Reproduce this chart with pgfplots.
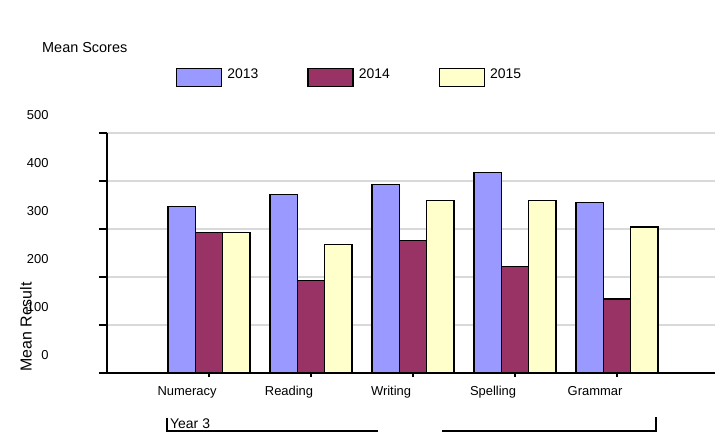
\documentclass[border=0pt]{standalone}
\usepackage{fontspec}
\setmainfont{Liberation Sans}
\usepackage{pgfplots}
\pgfplotsset{compat=1.18}
\definecolor{c13}{HTML}{9999FF}
\definecolor{c14}{HTML}{993366}
\definecolor{c15}{HTML}{FFFFCC}
\definecolor{gridc}{HTML}{D9D9D9}
\begin{document}
\begin{tikzpicture}
\useasboundingbox (0,0) rectangle (715bp,437bp);
\begin{axis}[
  at={(107bp,64bp)}, anchor=south west,
  scale only axis, width=608bp, height=240bp,
  xmin=0, xmax=5.96, ymin=0, ymax=500,
  clip=false,
  axis x line=bottom, axis y line=left,
  axis line style={-, black, line width=1.3bp},
  ybar=0pt, bar width=27.3bp,
  xtick={1,2,3,4,5},
  xticklabels={Numeracy,Reading,Writing,\raisebox{-4bp}{Spelling},Grammar},
  ytick={0,100,200,300,400,500},
  tick align=outside,
  major tick length=8bp,
  x tick style={/pgfplots/major tick length=4bp},
  tick style={black, line width=1.3bp},
  ymajorgrids, grid style={gridc, line width=1.2bp},
  /pgf/number format/assume math mode=true,
  yticklabel style={font=\fontsize{13}{15}\selectfont, xshift=-47bp, yshift=18bp},
  xticklabel style={font=\fontsize{13}{15}\selectfont, xshift=-22bp, yshift=-2bp},
  ylabel={Mean Result},
  ylabel style={at={(axis description cs:-0.1332,0.192)}, anchor=center, font=\fontsize{16}{18}\selectfont},
  legend columns=3,
  legend image code/.code={\draw[#1,line width=1.3bp] (0bp,-12bp) rectangle (45bp,6bp);},
  legend style={at={(axis description cs:0.1134,1.271)}, anchor=north west,
    draw=none, fill=none, inner sep=0pt,
    font=\fontsize{14}{16}\selectfont,
    nodes={inner sep=0pt},
    /tikz/every odd column/.append style={column sep=5bp},
    /tikz/every even column/.append style={column sep=49bp}},
]
\addplot[fill=c13, draw=black, line width=1.3bp] coordinates {(1,347) (2,372) (3,393) (4,418) (5,355)};
\addplot[fill=c14, draw=black, line width=1.3bp] coordinates {(1,293) (2,192) (3,276) (4,222) (5,154)};
\addplot[fill=c15, draw=black, line width=1.3bp] coordinates {(1,293) (2,267) (3,360) (4,360) (5,304)};
\legend{2013,2014,2015}
\draw[line width=1.3bp] (axis cs:0,0) -- (axis cs:5.96,0);
\end{axis}
\node[anchor=base west, font=\fontsize{14.5}{17}\selectfont, inner sep=0pt] at (42bp,384bp) {Mean Scores};
\draw[line width=1.4bp] (167bp,19bp) -- (167bp,6bp) -- (378bp,6bp);
\draw[line width=1.4bp] (442bp,6bp) -- (656bp,6bp) -- (656bp,20bp);
\node[anchor=base west, font=\fontsize{14}{16}\selectfont, inner sep=0pt] at (170bp,9bp) {Year 3};
\end{tikzpicture}
\end{document}
